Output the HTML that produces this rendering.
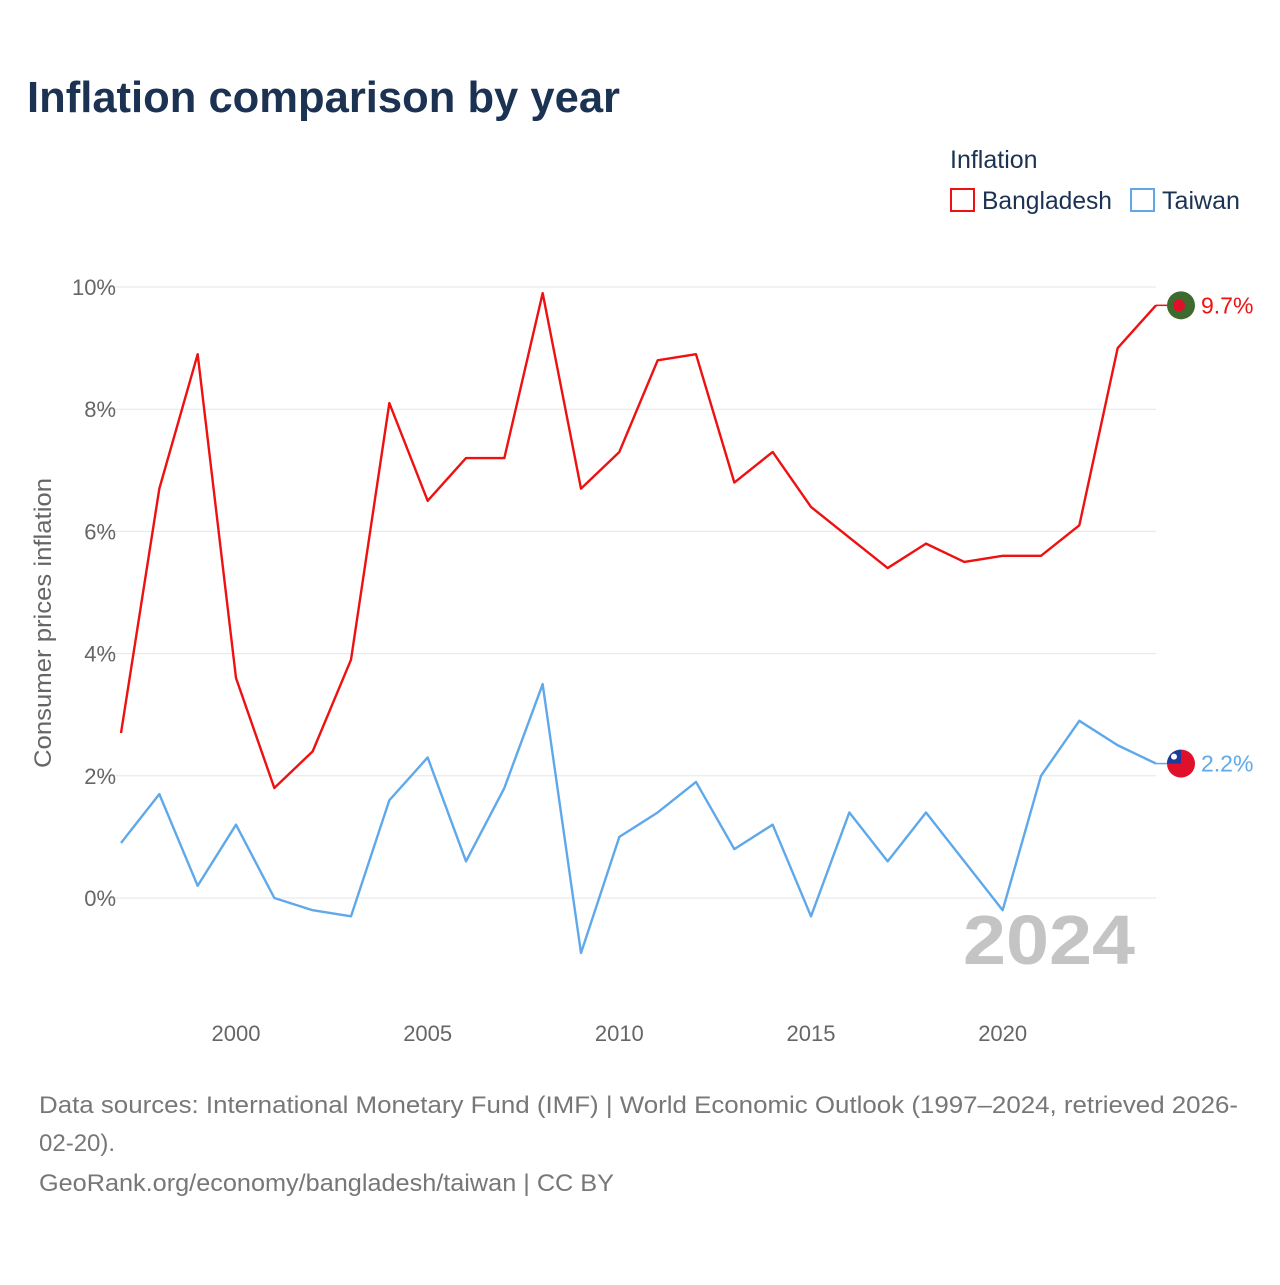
<!DOCTYPE html>
<html><head><meta charset="utf-8"><style>
html,body{margin:0;padding:0;background:#fff;}
body{width:1280px;height:1280px;overflow:hidden;font-family:"Liberation Sans",sans-serif;}
</style></head><body>
<svg width="1280" height="1280" xmlns="http://www.w3.org/2000/svg">
<text x="27" y="112" font-size="44" font-weight="bold" fill="#1b3253" textLength="593" lengthAdjust="spacingAndGlyphs">Inflation comparison by year</text>
<g>
<text x="950" y="168" font-size="25" fill="#1b3253">Inflation</text>
<g><rect x="951" y="189" width="23" height="22" fill="none" stroke="#ee1111" stroke-width="2"/><text x="982" y="209" font-size="25" fill="#1b3253" textLength="130" lengthAdjust="spacingAndGlyphs">Bangladesh</text></g>
<g><rect x="1131" y="189" width="23" height="22" fill="none" stroke="#5fa8ea" stroke-width="2"/><text x="1162" y="209" font-size="25" fill="#1b3253" textLength="78" lengthAdjust="spacingAndGlyphs">Taiwan</text></g>
</g>
<g id="grid"></g>
<g id="yt"></g>
<g id="xt"></g>
<text transform="translate(51,623) rotate(-90)" text-anchor="middle" font-size="24" fill="#666" textLength="290" lengthAdjust="spacingAndGlyphs">Consumer prices inflation</text>
<text x="963" y="964" font-size="70" font-weight="bold" fill="#c4c4c4" textLength="172" lengthAdjust="spacingAndGlyphs">2024</text>
<g id="series"></g>
<text x="39" y="1113" font-size="24" fill="#777" textLength="1199" lengthAdjust="spacingAndGlyphs">Data sources: International Monetary Fund (IMF) | World Economic Outlook (1997–2024, retrieved 2026-</text>
<text x="39" y="1151" font-size="24" fill="#777">02-20).</text>
<text x="39" y="1191" font-size="24" fill="#777" textLength="575" lengthAdjust="spacingAndGlyphs">GeoRank.org/economy/bangladesh/taiwan | CC BY</text>
</svg>
<script>
const years=[1997,1998,1999,2000,2001,2002,2003,2004,2005,2006,2007,2008,2009,2010,2011,2012,2013,2014,2015,2016,2017,2018,2019,2020,2021,2022,2023,2024];
const bangladesh=[2.7,6.7,8.9,3.6,1.8,2.4,3.9,8.1,6.5,7.2,7.2,9.9,6.7,7.3,8.8,8.9,6.8,7.3,6.4,5.9,5.4,5.8,5.5,5.6,5.6,6.1,9.0,9.7];
const taiwan=[0.9,1.7,0.2,1.2,0.0,-0.2,-0.3,1.6,2.3,0.6,1.8,3.5,-0.9,1.0,1.4,1.9,0.8,1.2,-0.3,1.4,0.6,1.4,0.6,-0.2,2.0,2.9,2.5,2.2];
const yTicks=[0,2,4,6,8,10];
const xTicks=[2000,2005,2010,2015,2020];
const NS="http://www.w3.org/2000/svg";
const X=v=>121+(v-1997)*(1156-121)/27;
const Y=v=>898-v*61.1;
function mk(t,a,p){const e=document.createElementNS(NS,t);for(const k in a)e.setAttribute(k,a[k]);p.appendChild(e);return e;}
const grid=document.getElementById('grid'),yt=document.getElementById('yt'),xt=document.getElementById('xt'),ser=document.getElementById('series');
yTicks.forEach(v=>{
 const l=mk('line',{x1:100,x2:1156,y1:Y(v),y2:Y(v),stroke:'#e6e6e6','stroke-width':1},grid);
 
 
 const t=mk('text',{x:116,y:Y(v)+8,'text-anchor':'end','font-size':22,fill:'#666'},yt);
 t.textContent=v+'%';
 
 
});
xTicks.forEach(v=>{
 const t=mk('text',{x:X(v),y:1041,'text-anchor':'middle','font-size':22,fill:'#666'},xt);
 t.textContent=v;
 
 
});
function line(vals,color,name){
 const p=mk('polyline',{points:vals.map((v,i)=>X(years[i])+','+Y(v)).join(' '),fill:'none',stroke:color,'stroke-width':2.4,'stroke-linejoin':'round'},ser);
 
 
 const last=vals[vals.length-1],ly=Y(last);
 const c=mk('line',{x1:1156,x2:1167,y1:ly,y2:ly,stroke:color,'stroke-width':1.5},ser);
 
 
 return ly;
}
const by=line(bangladesh,'#ee1111','bangladesh');
const ty=line(taiwan,'#5fa8ea','taiwan');
let f=mk('circle',{cx:1181,cy:by,r:14,fill:'#3e6a2e'},ser);


mk('circle',{cx:1179,cy:by,r:6,fill:'#e0102a'},ser);
let t1=mk('text',{x:1201,y:by+8,'font-size':23,fill:'#ee1111'},ser);t1.textContent=bangladesh[bangladesh.length-1].toFixed(1)+'%';


let f2=mk('circle',{cx:1181,cy:ty,r:14,fill:'#e0102a'},ser);


mk('path',{d:`M1167 ${ty} A14 14 0 0 1 1181 ${ty-14} L1181 ${ty} Z`,fill:'#1d3b9a'},ser);
mk('circle',{cx:1174,cy:ty-7,r:3,fill:'#fff'},ser);
let t2=mk('text',{x:1201,y:ty+8,'font-size':23,fill:'#5fa8ea'},ser);t2.textContent=taiwan[taiwan.length-1].toFixed(1)+'%';


</script>
</body></html>
